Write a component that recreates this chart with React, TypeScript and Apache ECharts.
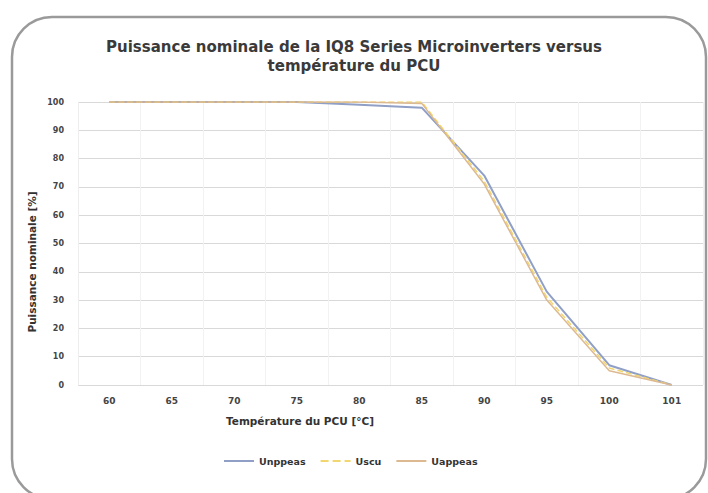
import React, { useEffect, useRef } from "react";
import * as echarts from "echarts";

const categories = ["60", "65", "70", "75", "80", "85", "90", "95", "100", "101"];
const seriesNames = ["Unppeas", "Uscu", "Uappeas"];
const blueValues = [100, 100, 100, 100, 99, 98, 74, 33, 7, 0];
const yellowValues = [100, 100, 100, 100, 100, 100, 72, 31, 6, 0];
const tanValues = [100, 100, 100, 100, 100, 99.5, 71, 30, 5, 0];
const titleLines = ["Puissance nominale de la IQ8 Series Microinverters versus", "température du PCU"];
const yAxisName = "Puissance nominale [%]";
const xAxisName = "Température du PCU [°C]";

export default function App() {
  const ref = useRef<HTMLDivElement>(null);
  useEffect(() => {
    if (!ref.current) return;
    const chart = echarts.init(ref.current, undefined, { renderer: "svg" });
    const font = "DejaVu Sans";
    chart.setOption({
      animation: false,
      backgroundColor: "#ffffff",
      title: {
        text: titleLines.join("\n"),
        left: "center",
        top: 32,
        textStyle: { fontFamily: font, fontSize: 15, fontWeight: "bold", color: "#3a3a3a", lineHeight: 19 },
      },
      grid: { left: 78, right: 5, top: 102, bottom: 108, containLabel: false },
      xAxis: {
        type: "category",
        data: categories,
        boundaryGap: true,
        axisLine: { show: false },
        axisTick: { show: false },
        axisLabel: { fontFamily: font, fontSize: 9, fontWeight: "bold", color: "#444", margin: 11 },
        splitLine: { show: true, lineStyle: { color: "#f2f2f2", width: 1 } },
      },
      yAxis: {
        type: "value",
        min: 0,
        max: 100,
        interval: 10,
        axisLine: { show: true, lineStyle: { color: "#eeeeee" } },
        axisTick: { show: false },
        axisLabel: { fontFamily: font, fontSize: 8, fontWeight: "bold", color: "#444", margin: 14 },
        splitLine: { show: true, lineStyle: { color: "#d9d9d9", width: 1 } },
      },
      legend: {
        left: 218,
        top: 451,
        itemWidth: 30,
        itemHeight: 10,
        itemGap: 14,
        itemStyle: { opacity: 0 },
        textStyle: { fontFamily: font, fontSize: 9.5, fontWeight: "bold", color: "#333" },
        data: seriesNames,
      },
      series: [
        {
          name: seriesNames[0],
          type: "line",
          data: blueValues,
          symbol: "none",
          lineStyle: { color: "#8f9fc6", width: 2 },
          itemStyle: { color: "#8f9fc6" },
          z: 2,
        },
        {
          name: seriesNames[1],
          type: "line",
          data: yellowValues,
          symbol: "none",
          lineStyle: { color: "#f2d770", width: 1.5, type: "dashed" },
          itemStyle: { color: "#f2d770" },
          z: 3,
        },
        {
          name: seriesNames[2],
          type: "line",
          data: tanValues,
          symbol: "none",
          lineStyle: { color: "#dcb990", width: 1.5 },
          itemStyle: { color: "#dcb990" },
          z: 4,
        },
      ],
      graphic: [
        {
          type: "rect",
          shape: { x: 12, y: 17, width: 694, height: 482, r: 40 },
          style: { fill: "none", stroke: "#9a9a9a", lineWidth: 2.5 },
          silent: true,
        },
        {
          type: "text",
          x: 300,
          y: 421,
          style: {
            text: xAxisName,
            fontFamily: font,
            fontSize: 10.5,
            fontWeight: "bold",
            fill: "#333",
            align: "center",
            verticalAlign: "middle",
          },
        },
        {
          type: "text",
          x: 32,
          y: 262,
          rotation: Math.PI / 2,
          style: {
            text: yAxisName,
            fontFamily: font,
            fontSize: 10.5,
            fontWeight: "bold",
            fill: "#333",
            align: "center",
            verticalAlign: "middle",
          },
        },
      ],
    });
    return () => chart.dispose();
  }, []);
  return <div ref={ref} style={{ position: "fixed", left: 0, top: 0, width: 708, height: 493 }} />;
}
